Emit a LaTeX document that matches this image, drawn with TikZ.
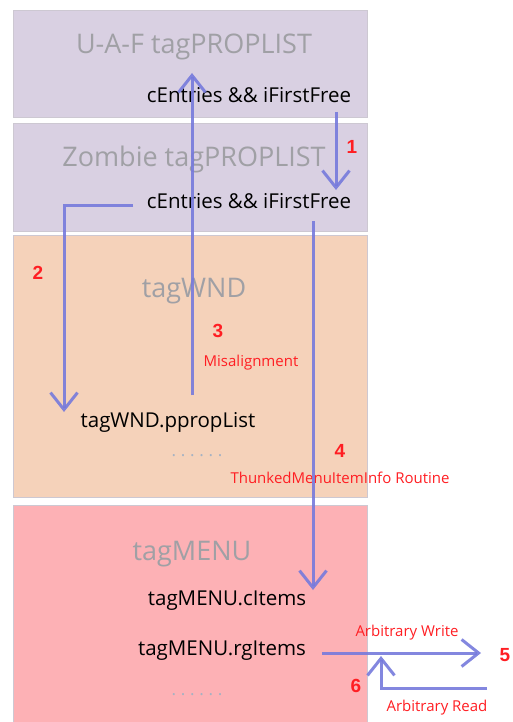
\documentclass[tikz,border=0pt]{standalone}
\usepackage{fontspec}
\setmainfont{Open Sans}
\newfontfamily\numfont{Liberation Sans}
\usetikzlibrary{arrows.meta}

\definecolor{lavender}{RGB}{217,208,226}
\definecolor{peach}{RGB}{245,210,186}
\definecolor{rosy}{RGB}{253,177,181}
\definecolor{edgegray}{RGB}{205,200,210}
\definecolor{titlegray}{RGB}{160,160,165}
\definecolor{dotgray}{RGB}{165,178,195}
\definecolor{linkblue}{RGB}{118,122,220}
\definecolor{notered}{RGB}{255,30,35}

\tikzset{
  block/.style={draw=edgegray, line width=0.8pt},
  title/.style={text=titlegray, font=\fontsize{27}{30}\selectfont},
  field/.style={text=black, font=\fontsize{20.5}{24}\selectfont},
  dots/.style={text=dotgray, font=\fontsize{17}{18}\selectfont\addfontfeature{LetterSpace=28}},
  num/.style={text=notered, font=\numfont\bfseries\fontsize{19}{22}\selectfont},
  note/.style={text=notered, font=\fontsize{15}{17}\selectfont},
  link/.style={draw=linkblue, draw opacity=0.9, line width=3pt,
    -{Straight Barb[length=17pt,width=27pt]}}
}

\begin{document}
\begin{tikzpicture}[x=1pt,y=-1pt]
	\tikzstyle{every node}=[align=center, inner sep=1pt]
	\useasboundingbox (0,0) rectangle (512,722);

	% the four memory blocks
	\filldraw[block, fill=lavender] (13,10) rectangle (367,117);
	\filldraw[block, fill=lavender] (13,123) rectangle (367,231);
	\filldraw[block, fill=peach] (13,235) rectangle (367,497);
	\filldraw[block, fill=rosy] (13,505) rectangle (367,724);

	\node[title] (uaft) at (194,47) {U-A-F tagPROPLIST};
	\node[field] (uafc) at (249,95) {cEntries \&\& iFirstFree};
	\node[title] (zomt) at (194,159) {Zombie tagPROPLIST};
	\node[field] (zomc) at (249,201) {cEntries \&\& iFirstFree};
	\node[title] (wndt) at (194,291) {tagWND};
	\node[field] (wndp) at (168,422) {tagWND.ppropList};
	\node[dots] (wndd) at (197,456) {......};
	\node[title] (mnut) at (192,554) {tagMENU};
	\node[field] (mnuc) at (227,601) {tagMENU.cItems};
	\node[field] (mnur) at (222,651) {tagMENU.rgItems};
	\node[dots] (mnud) at (197,695) {......};

	% steps
	\node[num] (n1) at (352,147) {1};
	\node[num] (n2) at (38,273) {2};
	\node[num] (n3) at (218,331) {3};
	\node[note] (m3) at (251,363) {Misalignment};
	\node[num] (n4) at (340,451) {4};
	\node[note] (m4) at (340,478) {ThunkedMenuItemInfo Routine};
	\node[num] (n5) at (505,655) {5};
	\node[note] (m5) at (407,633) {Arbitrary Write};
	\node[num] (n6) at (356,686) {6};
	\node[note] (m6) at (437,708) {Arbitrary Read};

	\coordinate (a1s) at (336,112);
	\coordinate (a1e) at (336,190);
	\coordinate (a2s) at (133,205);
	\coordinate (a2e) at (64,412);
	\coordinate (a3s) at (192,395);
	\coordinate (a3e) at (192,73);
	\coordinate (a4s) at (313,221);
	\coordinate (a4e) at (313,590);
	\coordinate (a5s) at (322,653);
	\coordinate (a5e) at (481,653);
	\coordinate (a6s) at (487,688);
	\coordinate (a6e) at (381,656);

	\draw[link]  (a1s) to (a1e);
	\draw[link]  (a2s) -| (a2e);
	\draw[link]  (a3s) to (a3e);
	\draw[link]  (a4s) to (a4e);
	\draw[link]  (a5s) to (a5e);
	\draw[link]  (a6s) -| (a6e);
\end{tikzpicture}
\end{document}
